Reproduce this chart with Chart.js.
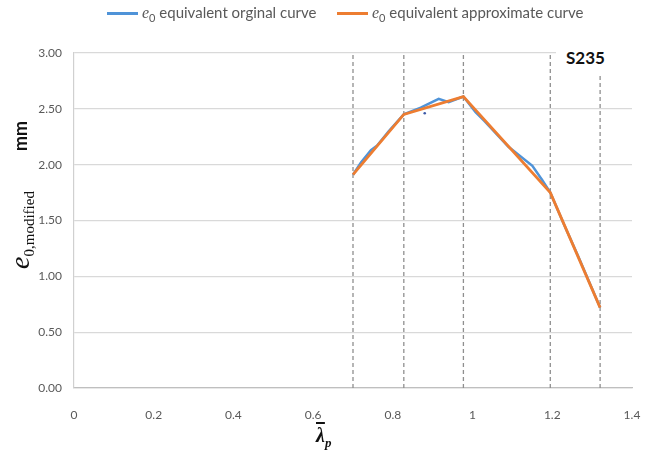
<!DOCTYPE html>
<html lang="en">
<head>
    <meta charset="UTF-8">
    <title>e0 equivalent curves S235</title>
    <style>
        body { margin: 0; background: #fff; }
        .wrap { position: relative; width: 656px; height: 454px; }
        canvas { position: absolute; left: 0; top: 0; }
        .leg { position: absolute; top: 3px; font-family: 'Lato', sans-serif; font-size: 15px; color: #595959; white-space: nowrap; line-height: 19px; }
        .leg .swatch { display: inline-block; width: 31px; height: 3px; vertical-align: middle; margin-right: 4px; position: relative; top: -1px; }
        .leg i, .ytitle i { font-family: 'Liberation Serif', serif; }
        .leg i { font-size: 16px; }
        .leg sub { font-size: 11px; }
        .grade { position: absolute; left: 556px; top: 38px; width: 86px; height: 36px; background: #fff; font-family: 'Lato', sans-serif; font-weight: bold; font-size: 17px; color: #111; padding: 9px 0 0 10px; box-sizing: border-box; }
        .ytitle { position: absolute; left: 21px; top: 230px; transform: translate(-50%, -50%) rotate(-90deg); white-space: nowrap; font-family: 'Liberation Serif', serif; color: #111; }
        .ytitle i { font-size: 28px; }
        .ytitle sub { font-size: 15px; }
        .unit { position: absolute; left: 20px; top: 136px; transform: translate(-50%, -50%) rotate(-90deg); font-family: 'Lato', sans-serif; font-weight: bold; font-size: 18px; color: #111; }
        .xtitle { position: absolute; left: 316px; top: 424px; font-family: 'Liberation Serif', serif; font-weight: bold; font-style: italic; font-size: 20px; color: #111; }
        .xtitle .bar { text-decoration: overline; }
        .xtitle sub { font-size: 13px; }
    </style>
</head>
<body>
<div class="wrap">
    <canvas id="grafico" width="656" height="454"></canvas>
    <div class="leg" style="left:107px"><span class="swatch" style="background:#4f93d8"></span><i>e</i><sub>0</sub> equivalent orginal curve</div>
    <div class="leg" style="left:337px"><span class="swatch" style="background:#ed7d31"></span><i>e</i><sub>0</sub> equivalent approximate curve</div>
    <div class="grade">S235</div>
    <div class="unit">mm</div>
    <div class="ytitle"><i>e</i><sub>0,modified</sub></div>
    <div class="xtitle"><span class="bar">λ</span><sub>p</sub></div>
</div>

<script src="https://cdn.jsdelivr.net/npm/chart.js"></script>
<script>
    // curva original (azul)
    const origX = [0.70, 0.72, 0.745, 0.76, 0.79, 0.8275, 0.87, 0.915, 0.94, 0.977, 1.0075, 1.03, 1.09, 1.15, 1.175, 1.195, 1.23, 1.265, 1.32];
    const origY = [1.91, 2.02, 2.13, 2.17, 2.30, 2.45, 2.51, 2.59, 2.56, 2.61, 2.47, 2.39, 2.16, 1.99, 1.86, 1.75, 1.46, 1.18, 0.72];

    // curva aproximada (laranja)
    const approxX = [0.70, 0.8275, 0.977, 1.195, 1.32];
    const approxY = [1.91, 2.45, 2.61, 1.75, 0.72];

    // linhas verticais tracejadas
    const markerX = [0.70, 0.8275, 0.977, 1.195, 1.32];

    // ponto isolado
    const strayX = [0.88];
    const strayY = [2.46];

    const yMin = 0, yMax = 3, yStep = 0.5;
    const xMin = 0, xMax = 1.4, xStep = 0.2;

    const toPoints = (xs, ys) => xs.map((x, i) => ({ x: x, y: ys[i] }));

    const datasets = [];

    markerX.forEach((x) => {
        datasets.push({
            data: [{ x: x, y: yMin }, { x: x, y: yMax }],
            borderColor: '#8f8f8f',
            borderWidth: 1.3,
            borderDash: [4, 3],
            pointRadius: 0,
            order: 3
        });
    });

    datasets.push({
        label: 'original',
        data: toPoints(origX, origY),
        borderColor: '#4f93d8',
        borderWidth: 2.5,
        pointRadius: 0,
        tension: 0,
        order: 2
    });

    datasets.push({
        label: 'approximate',
        data: toPoints(approxX, approxY),
        borderColor: '#ed7d31',
        borderWidth: 2.8,
        pointRadius: 0,
        tension: 0,
        order: 1
    });

    datasets.push({
        data: toPoints(strayX, strayY),
        showLine: false,
        pointRadius: 1.3,
        pointBackgroundColor: '#3d5aa8',
        pointBorderWidth: 0,
        order: 0
    });

    const tickFont = { family: 'Lato', size: 12 };

    new Chart(document.getElementById('grafico').getContext('2d'), {
        type: 'line',
        data: { datasets: datasets },
        options: {
            responsive: false,
            animation: false,
            devicePixelRatio: 1,
            layout: { padding: { left: 0, top: 53, right: 24, bottom: 0 } },
            plugins: {
                legend: { display: false },
                tooltip: { enabled: false }
            },
            scales: {
                x: {
                    type: 'linear',
                    min: xMin,
                    max: xMax,
                    grid: { display: false },
                    border: { display: true, color: '#bfbfbf', width: 1.3 },
                    ticks: {
                        stepSize: xStep,
                        padding: 12,
                        color: '#595959',
                        font: tickFont,
                        maxRotation: 0,
                        callback: (v) => String(Number(v.toFixed(1)))
                    },
                    afterFit: (s) => { s.height = 66; }
                },
                y: {
                    min: yMin,
                    max: yMax,
                    grid: { color: '#d9d9d9', lineWidth: 1.2, drawTicks: false },
                    border: { display: true, color: '#d0d0d0', width: 1.2 },
                    ticks: {
                        stepSize: yStep,
                        padding: 12,
                        color: '#595959',
                        font: tickFont,
                        callback: (v) => v.toFixed(2)
                    },
                    afterFit: (s) => { s.width = 74; }
                }
            }
        }
    });
</script>
</body>
</html>
